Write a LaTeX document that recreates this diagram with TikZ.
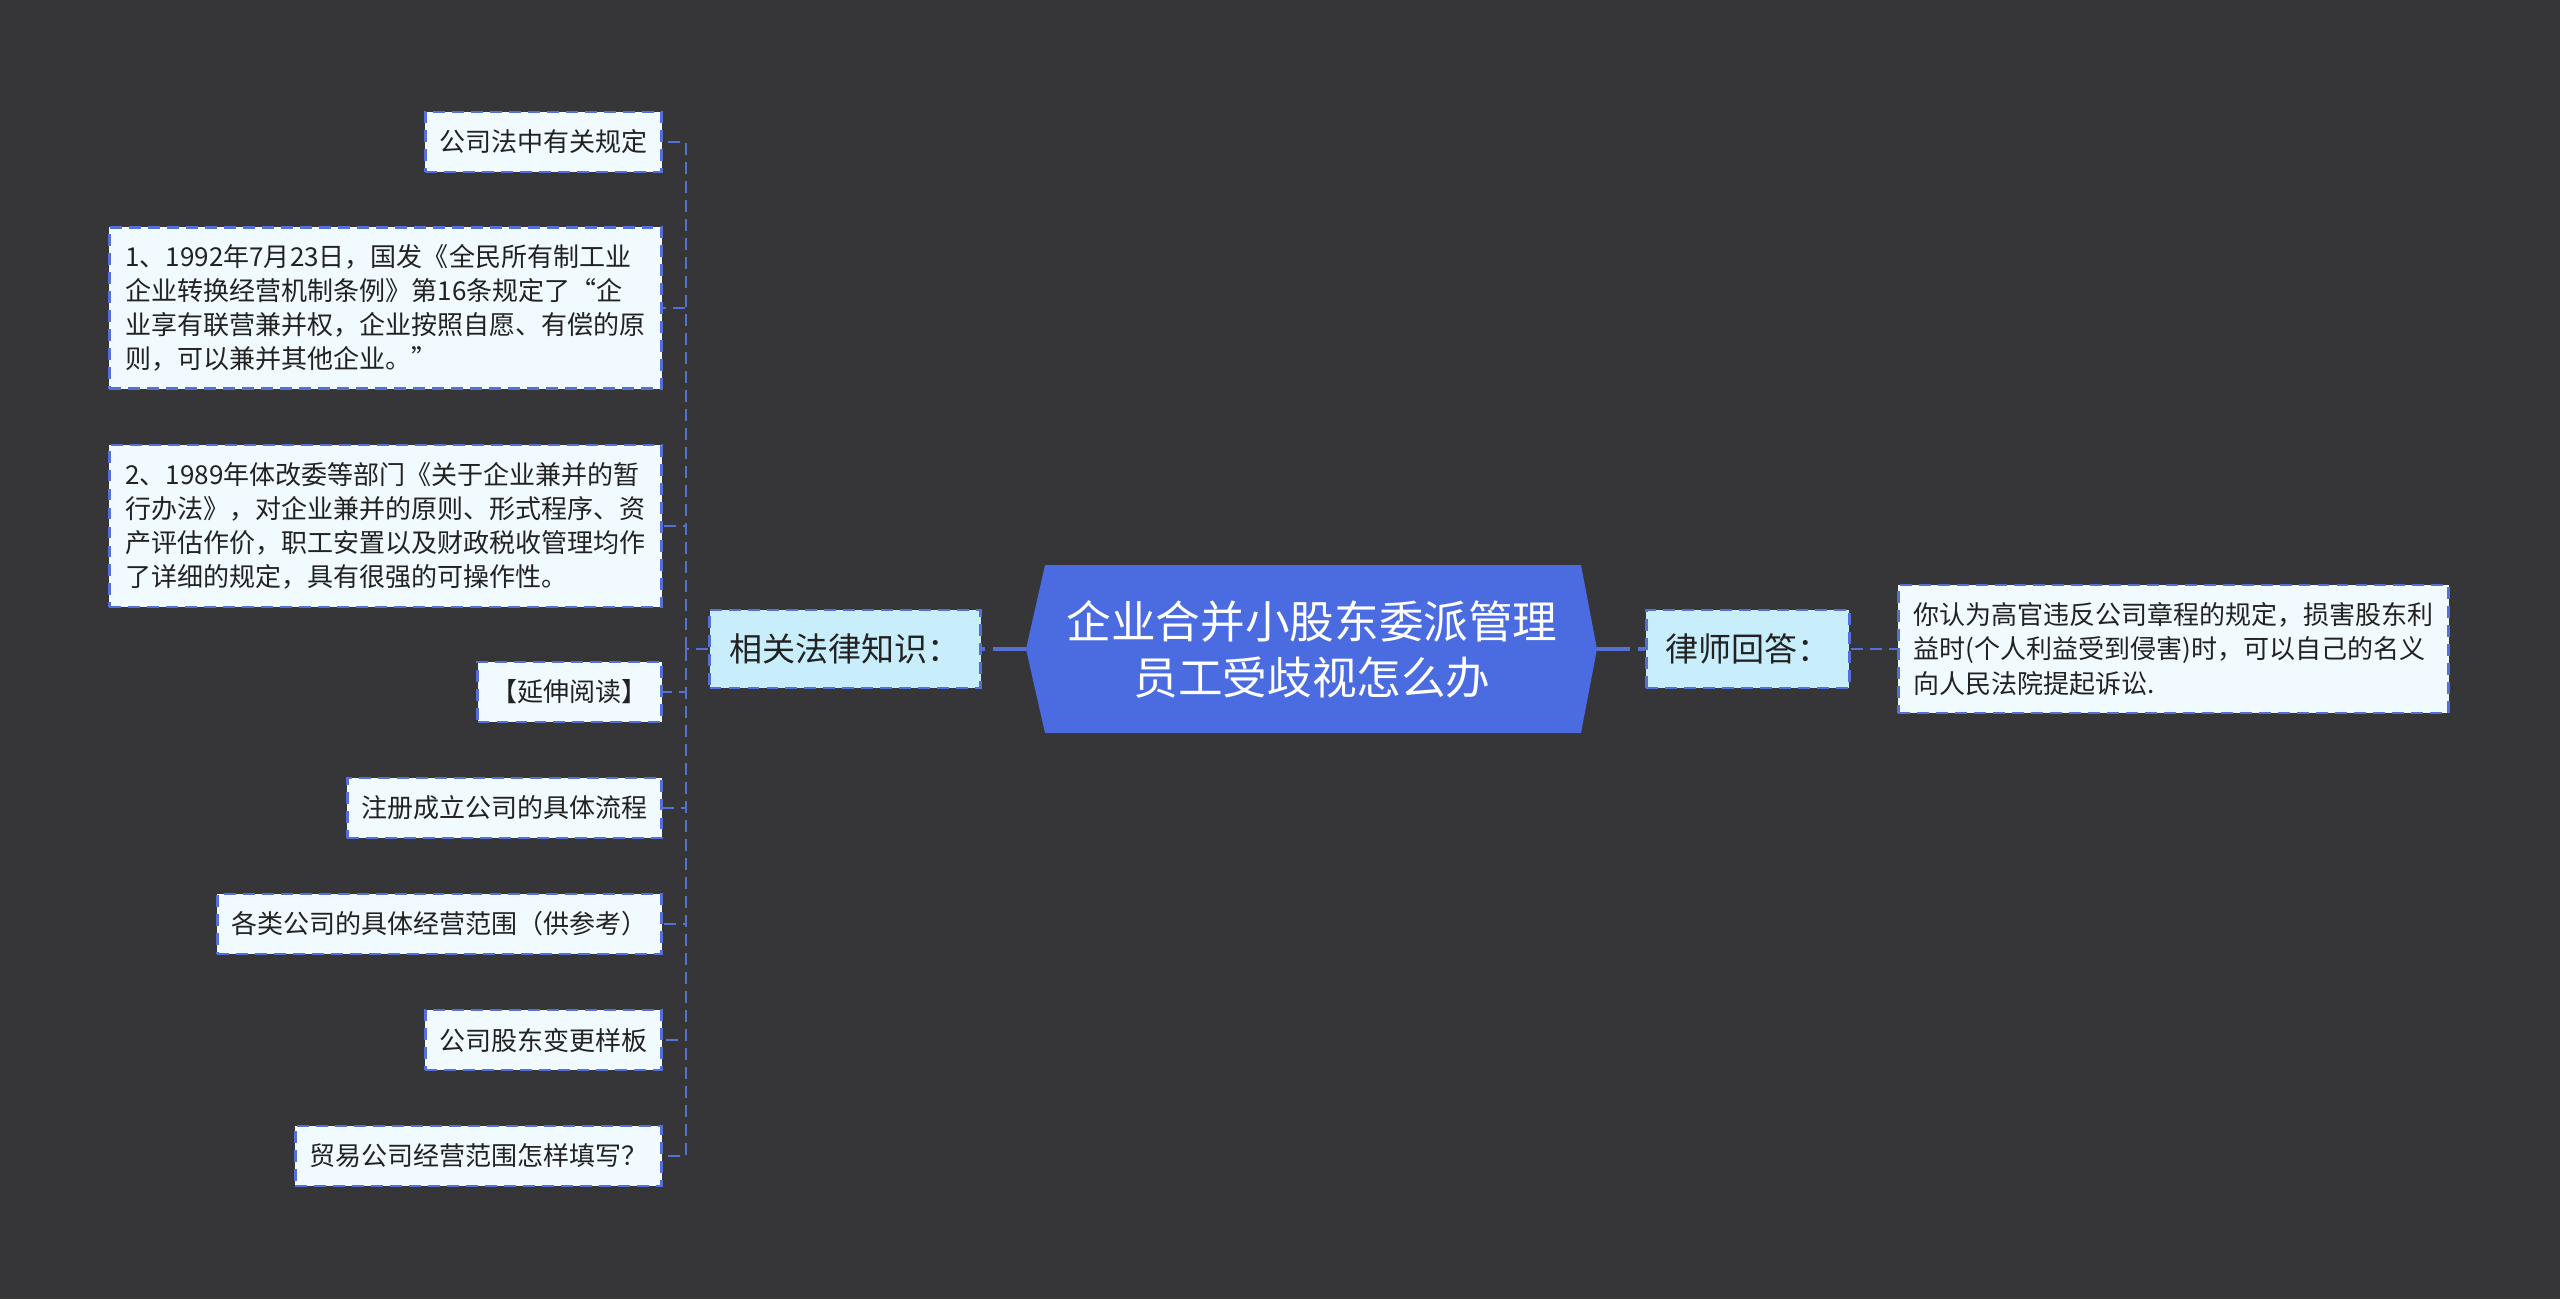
\documentclass[tikz,border=0pt]{standalone}
\usepackage{fontspec}
\setmainfont{Noto Sans CJK SC}
\usepackage{tikz}
\usetikzlibrary{positioning}
\definecolor{bgdark}{RGB}{54,53,56}
\definecolor{rootblue}{RGB}{74,108,224}
\definecolor{linkblue}{RGB}{84,112,214}
\definecolor{topicfill}{RGB}{200,238,252}
\definecolor{leaffill}{RGB}{240,250,255}
\definecolor{inkdark}{RGB}{34,34,34}

\tikzset{
  leafbox/.style={draw=linkblue, line width=0.75pt, dash pattern=on 3.4pt off 2pt,
    fill=leaffill, text=inkdark, font=\fontsize{7.4}{9.7}\selectfont,
    inner xsep=0.14cm, inner ysep=0pt, minimum height=0.6cm, align=left},
  topicbox/.style={draw=linkblue, line width=0.75pt, dash pattern=on 3.4pt off 2pt,
    fill=topicfill, text=inkdark, font=\fontsize{9.4}{11}\selectfont,
    inner sep=0pt, minimum height=0.78cm},
  leaflink/.style={draw=linkblue, line width=0.75pt, dash pattern=on 3.4pt off 2pt},
  rootlink/.style={draw=linkblue, line width=1.1pt, dash pattern=on 9.4pt off 2.3pt}
}

\begin{document}
\begin{tikzpicture}[x=0.01cm, y=-0.01cm]

\fill[bgdark] (0,0) rectangle (2560,1299);
\useasboundingbox (0,0) rectangle (2560,1299);

\coordinate (rootW) at (1026,649);
\coordinate (rootE) at (1597,649);
\fill[rootblue] (rootW) -- (1045,565) -- (1581,565) -- (rootE) -- (1581,733) -- (1045,733) -- cycle;
\node[text=white, align=center, font=\fontsize{12.7}{15.9}\selectfont] (root) at (1312,649)
  {企业合并小股东委派管理\\员工受歧视怎么办};

\node[topicbox, minimum width=2.71cm, anchor=east] (know) at (982,649) {相关法律知识：};
\node[topicbox, minimum width=2.03cm, anchor=west] (ans) at (1645,649) {律师回答：};

\node[leafbox, minimum width=5.5cm, minimum height=1.28cm, anchor=west] (reply) at (1897,649)
  {你认为高官违反公司章程的规定，损害股东利\\益时(个人利益受到侵害)时，可以自己的名义\\向人民法院提起诉讼.};

\node[leafbox, anchor=east] (law) at (663,142) {公司法中有关规定};
\node[leafbox, anchor=east, minimum width=5.52cm, minimum height=1.61cm] (rule1) at (663,308)
  {1、1992年7月23日，国发《全民所有制工业\\企业转换经营机制条例》第16条规定了“企\\业享有联营兼并权，企业按照自愿、有偿的原\\则，可以兼并其他企业。”};
\node[leafbox, anchor=east, minimum width=5.52cm, minimum height=1.62cm] (rule2) at (663,526)
  {2、1989年体改委等部门《关于企业兼并的暂\\行办法》，对企业兼并的原则、形式程序、资\\产评估作价，职工安置以及财政税收管理均作\\了详细的规定，具有很强的可操作性。};
\node[leafbox, anchor=east] (more) at (663,692) {【延伸阅读】};
\node[leafbox, anchor=east] (flow) at (663,808) {注册成立公司的具体流程};
\node[leafbox, anchor=east] (scope) at (663,924) {各类公司的具体经营范围（供参考）};
\node[leafbox, anchor=east] (change) at (663,1040) {公司股东变更样板};
\node[leafbox, anchor=east] (trade) at (663,1156) {贸易公司经营范围怎样填写？};

\draw[rootlink] (rootW) -- (know.east);
\draw[rootlink] (rootE) -- (ans.west);
\draw[leaflink] (ans.east) -- (reply.west);

\coordinate (trunk) at (686,649);
\draw[leaflink] (know.west) -- (trunk);
\foreach \leaf in {law,rule1,rule2,more,flow,scope,change,trade}
  \draw[leaflink] (trunk) |- (\leaf.east);

\end{tikzpicture}
\end{document}
